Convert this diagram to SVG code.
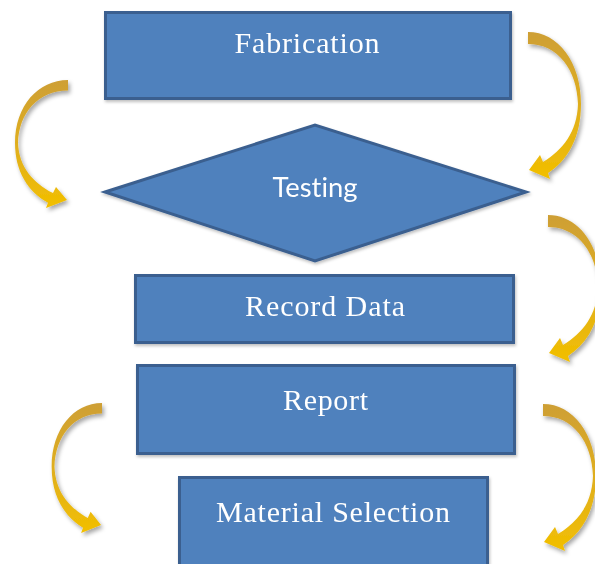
<svg xmlns="http://www.w3.org/2000/svg" width="595" height="564" viewBox="0 0 595 564">
  <defs>
    <linearGradient id="gold" x1="0" y1="0" x2="0" y2="1">
      <stop offset="0" stop-color="#CE9F35"/>
      <stop offset="0.5" stop-color="#DFAE1E"/>
      <stop offset="1" stop-color="#F2BF00"/>
    </linearGradient>
    <filter id="shadow" x="-30%" y="-20%" width="160%" height="140%">
      <feDropShadow dx="2" dy="3" stdDeviation="2" flood-color="#000" flood-opacity="0.35"/>
    </filter>
    <filter id="boxshadow" x="-5%" y="-5%" width="110%" height="120%">
      <feDropShadow dx="1" dy="2" stdDeviation="1.5" flood-color="#000" flood-opacity="0.25"/>
    </filter>
    <path id="arc" d="M 0 0 C 30 0 53 30 53 72 C 53 105 40 128 20 141 L 22 147 L 1 138 L 12 123 L 15 130 C 35 118 49 100 50 72 C 49 38 30 12 0 12 Z"/>
  </defs>
  <style>
    .box { fill: #4F81BD; stroke: #3A5F8F; stroke-width: 3; }
    .serif { font-family: "Liberation Serif", "Times New Roman", serif; font-size: 30px; fill: #FFFFFF; text-anchor: middle; }
    .sans { font-family: Lato, "Open Sans", sans-serif; font-size: 26px; fill: #FFFFFF; text-anchor: middle; font-variant-ligatures: none; font-feature-settings: "liga" 0; }
    .arrow { fill: url(#gold); }
  </style>

  <g id="connectors">
    <g filter="url(#shadow)"><use href="#arc" class="arrow" transform="translate(528,32)"/></g>
    <g filter="url(#shadow)"><use href="#arc" class="arrow" transform="translate(68,80) scale(-1,0.87)"/></g>
    <g filter="url(#shadow)"><use href="#arc" class="arrow" transform="translate(548,215)"/></g>
    <g filter="url(#shadow)"><use href="#arc" class="arrow" transform="translate(102,403) scale(-0.95,0.884)"/></g>
    <g filter="url(#shadow)"><use href="#arc" class="arrow" transform="translate(543,404)"/></g>
  </g>

  <g id="fabrication" filter="url(#boxshadow)">
    <rect class="box" x="105.5" y="12.5" width="405" height="86"/>
    <text class="serif" x="307" y="53" textLength="145" lengthAdjust="spacing">Fabrication</text>
  </g>

  <g id="testing" filter="url(#boxshadow)">
    <polygon class="box" points="105,192 315,125 526,192 315,261"/>
    <text class="sans" x="315" y="197" textLength="85" lengthAdjust="spacingAndGlyphs">Testing</text>
  </g>

  <g id="record-data" filter="url(#boxshadow)">
    <rect class="box" x="135.5" y="275.5" width="378" height="67"/>
    <text class="serif" x="325" y="316" textLength="160" lengthAdjust="spacing">Record Data</text>
  </g>

  <g id="report" filter="url(#boxshadow)">
    <rect class="box" x="137.5" y="365.5" width="377" height="88"/>
    <text class="serif" x="325.5" y="410" textLength="85" lengthAdjust="spacing">Report</text>
  </g>

  <g id="material-selection" filter="url(#boxshadow)">
    <rect class="box" x="179.5" y="477.5" width="308" height="100"/>
    <text class="serif" x="333" y="522" textLength="234" lengthAdjust="spacing">Material Selection</text>
  </g>
</svg>
